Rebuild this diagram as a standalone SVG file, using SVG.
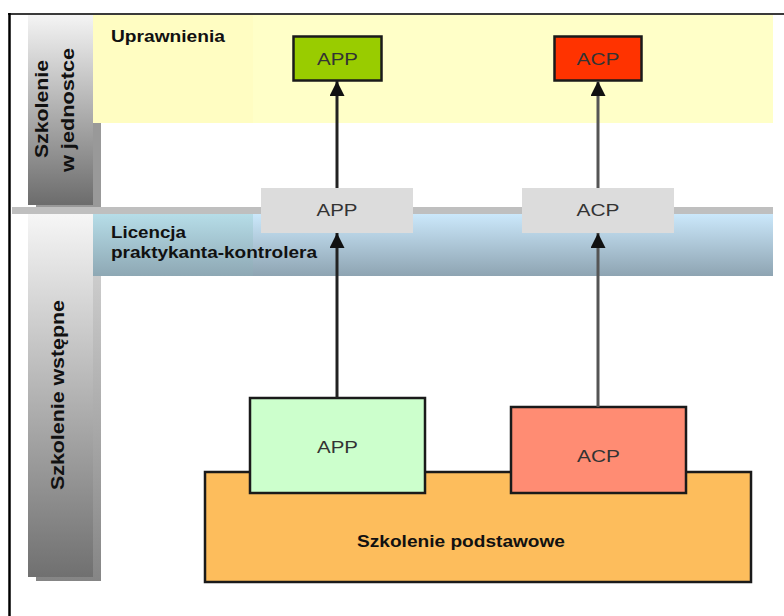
<svg xmlns="http://www.w3.org/2000/svg" width="784" height="616" viewBox="0 0 784 616">
  <defs>
    <linearGradient id="gBarTop" x1="0" y1="0" x2="0" y2="1">
      <stop offset="0" stop-color="#f4f4f4"/>
      <stop offset="1" stop-color="#6c6c6c"/>
    </linearGradient>
    <linearGradient id="gBarBot" x1="0" y1="0" x2="0" y2="1">
      <stop offset="0" stop-color="#f6f6f6"/>
      <stop offset="1" stop-color="#707070"/>
    </linearGradient>
    <linearGradient id="gShadow" x1="0" y1="0" x2="0" y2="1">
      <stop offset="0" stop-color="#d8d8d8"/>
      <stop offset="1" stop-color="#858585"/>
    </linearGradient>
    <linearGradient id="gBlueL" x1="0" y1="0" x2="0" y2="1">
      <stop offset="0" stop-color="#b6dde8"/>
      <stop offset="1" stop-color="#8ea8b4"/>
    </linearGradient>
    <linearGradient id="gBlueR" x1="0" y1="0" x2="0" y2="1">
      <stop offset="0" stop-color="#cbe8fb"/>
      <stop offset="1" stop-color="#8ea4b2"/>
    </linearGradient>
    <marker id="arr" viewBox="0 0 10 10" refX="10" refY="5" markerWidth="5" markerHeight="5" orient="auto" markerUnits="strokeWidth">
      <path d="M0,0 L10,5 L0,10 z" fill="#111"/>
    </marker>
    <style>
      .lbl { font-family: "Liberation Sans", Arial, sans-serif; font-weight: bold; fill: #111; }
      .side { font-family: "Liberation Sans", Arial, sans-serif; font-weight: bold; font-size: 18px; fill: #111; }
      .box { font-family: "Liberation Sans", Arial, sans-serif; font-size: 17px; fill: #333; text-anchor: middle; }
      .edge { fill: none; stroke-width: 3; marker-end: url(#arr); }
      .node { stroke: #1a1a1a; stroke-width: 2.5; }
    </style>
  </defs>

  <rect width="784" height="616" fill="#ffffff"/>

  <!-- frame -->
  <g id="frame">
    <line x1="8" y1="14" x2="784" y2="14" stroke="#3a3a3a" stroke-width="2"/>
    <line x1="9.5" y1="13" x2="9.5" y2="616" stroke="#000" stroke-width="2.5"/>
  </g>

  <!-- side bars -->
  <g id="bar-jednostce">
    <rect x="36" y="22" width="65" height="186" fill="#999"/>
    <rect x="28" y="15" width="65" height="190" fill="url(#gBarTop)"/>
    <text class="side" transform="translate(48,158) rotate(-90)" textLength="98" lengthAdjust="spacingAndGlyphs">Szkolenie</text>
    <text class="side" transform="translate(74,172) rotate(-90)" textLength="124" lengthAdjust="spacingAndGlyphs">w jednostce</text>
  </g>

  <g id="bar-wstepne">
    <rect x="36" y="222" width="65" height="359" fill="url(#gShadow)"/>
    <rect x="28" y="214" width="65" height="363" fill="url(#gBarBot)"/>
    <text class="side" transform="translate(64,490) rotate(-90)" textLength="190" lengthAdjust="spacingAndGlyphs">Szkolenie wstępne</text>
  </g>

  <!-- bands -->
  <g id="band-uprawnienia">
    <rect x="93" y="15" width="680" height="108" fill="#ffffc8"/>
    <rect x="93" y="15" width="160" height="108" fill="#fffdc2"/>
    <text class="lbl" x="111" y="42" font-size="17" textLength="114" lengthAdjust="spacingAndGlyphs">Uprawnienia</text>
  </g>

  <g id="separator">
    <rect x="12" y="207" width="761" height="7" fill="#bfbfbf"/>
  </g>

  <g id="band-licencja">
    <rect x="93" y="214" width="680" height="62" fill="url(#gBlueR)"/>
    <rect x="93" y="214" width="160" height="62" fill="url(#gBlueL)"/>
    <text class="lbl" x="111" y="238" font-size="17" textLength="75" lengthAdjust="spacingAndGlyphs">Licencja</text>
    <text class="lbl" x="111" y="258" font-size="17" textLength="206" lengthAdjust="spacingAndGlyphs">praktykanta-kontrolera</text>
  </g>

  <!-- base -->
  <g id="base">
    <rect class="node" x="205" y="472" width="546" height="110" fill="#fdbd5c"/>
    <text class="lbl" x="461" y="547" font-size="17" text-anchor="middle" textLength="208" lengthAdjust="spacingAndGlyphs">Szkolenie podstawowe</text>
  </g>

  <g id="app-basic">
    <rect class="node" x="250" y="398" width="175" height="95" fill="#ccffcc"/>
    <text class="box" x="337.5" y="453" textLength="41" lengthAdjust="spacingAndGlyphs">APP</text>
  </g>

  <g id="acp-basic">
    <rect class="node" x="511" y="407" width="175" height="86" fill="#ff8c73"/>
    <text class="box" x="598.5" y="462" textLength="43" lengthAdjust="spacingAndGlyphs">ACP</text>
  </g>

  <g id="app-licence">
    <rect x="261" y="188" width="152" height="45" fill="#dcdcdc"/>
    <text class="box" x="337" y="216" textLength="41" lengthAdjust="spacingAndGlyphs">APP</text>
  </g>

  <g id="acp-licence">
    <rect x="522" y="188" width="152" height="45" fill="#dcdcdc"/>
    <text class="box" x="598" y="216" textLength="43" lengthAdjust="spacingAndGlyphs">ACP</text>
  </g>

  <g id="app-rating">
    <rect class="node" x="293.5" y="36.5" width="88" height="44" fill="#99cc00"/>
    <text class="box" x="337.5" y="65" textLength="41" lengthAdjust="spacingAndGlyphs">APP</text>
  </g>

  <g id="acp-rating">
    <rect class="node" x="554.5" y="36.5" width="87" height="44" fill="#ff3300"/>
    <text class="box" x="598" y="65" textLength="43" lengthAdjust="spacingAndGlyphs">ACP</text>
  </g>

  <!-- connectors -->
  <g id="connectors">
    <line class="edge" stroke="#222" x1="337" y1="398" x2="337" y2="233"/>
    <line class="edge" stroke="#222" x1="337" y1="188" x2="337" y2="81"/>
    <line class="edge" stroke="#555" x1="598" y1="407" x2="598" y2="233"/>
    <line class="edge" stroke="#555" x1="598" y1="188" x2="598" y2="81"/>
  </g>
</svg>
